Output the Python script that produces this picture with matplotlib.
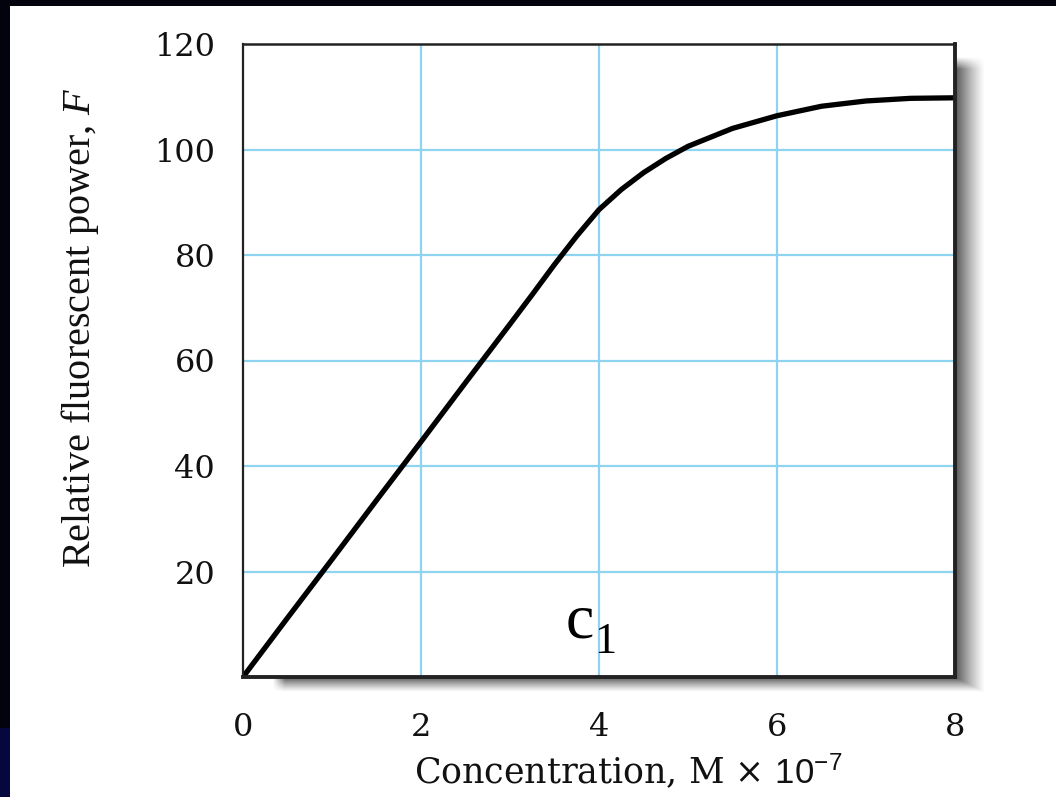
import numpy as np
import matplotlib
matplotlib.use("Agg")
import matplotlib.pyplot as plt
from matplotlib.patches import Rectangle

# ---- data ----
conc = [0, 0.5, 1, 1.5, 2, 2.5, 3, 3.25, 3.5, 3.75, 4, 4.25, 4.5, 4.75, 5,
        5.5, 6, 6.5, 7, 7.5, 8]
power = [0, 11.2, 22.3, 33.5, 44.6, 55.8, 66.9, 72.5, 78.2, 83.6, 88.6, 92.4,
         95.6, 98.3, 100.6, 104.0, 106.4, 108.2, 109.2, 109.7, 109.8]
x_ticks = [0, 2, 4, 6, 8]
x_ticklabels = ["0", "2", "4", "6", "8"]
y_ticks = [20, 40, 60, 80, 100, 120]
y_ticklabels = ["20", "40", "60", "80", "100", "120"]

plt.rcParams['mathtext.fontset'] = 'custom'
plt.rcParams['mathtext.rm'] = 'Liberation Serif'
plt.rcParams['mathtext.it'] = 'Liberation Serif:italic'
plt.rcParams['mathtext.sf'] = 'Liberation Sans'

W, H = 1056, 797
fig = plt.figure(figsize=(W / 100, H / 100), dpi=100)
fig.patch.set_facecolor('#03030d')

# background (pixel coordinates)
bg = fig.add_axes([0, 0, 1, 1])
bg.set_xlim(0, W)
bg.set_ylim(H, 0)
bg.axis('off')
bg.add_patch(Rectangle((10, 6), W - 10, H - 6, facecolor='white', edgecolor='none', zorder=0))
bg.add_patch(Rectangle((0, 728), 10, H - 728, facecolor='#07073f', edgecolor='none', zorder=0))

# drop shadow of the plot frame
x0s, x1s, y0s, y1s = 273, 985, 57, 692
ax_r, ax_b = 955, 677
xx, yy = np.meshgrid(np.arange(x0s, x1s) + 0.5, np.arange(y0s, y1s) + 0.5)
tx = np.clip((xx - ax_r) / (x1s - ax_r), 0, 1)
ty = np.clip((yy - ax_b) / (y1s - ax_b), 0, 1)
inside = (xx < ax_r) & (yy < ax_b)
t = np.where(xx >= ax_r, np.where(yy >= ax_b, np.maximum(tx, ty), tx), ty)
alpha = 0.75 * (1 - t) ** 1.2
alpha[inside] = 0
top_fade = np.clip((yy - y0s) / 12, 0, 1)
left_fade = np.clip((xx - x0s) / 12, 0, 1)
alpha = alpha * top_fade * left_fade
img = np.zeros(xx.shape + (4,))
img[..., :3] = 0.1
img[..., 3] = alpha
bg.imshow(img, extent=(x0s, x1s, y1s, y0s), origin='upper',
          interpolation='bilinear', aspect='auto', zorder=2)
bg.set_xlim(0, W)
bg.set_ylim(H, 0)

# main axes
ax = fig.add_axes([243 / W, 1 - 677 / H, (955 - 243) / W, (677 - 44) / H])
ax.set_facecolor('white')
ax.set_xlim(0, 8)
ax.set_ylim(0, 120)

for v in [2, 4, 6]:
    ax.axvline(v, color='#8ed3f0', lw=1.6, zorder=1)
for v in [20, 40, 60, 80, 100]:
    ax.axhline(v, color='#8ed3f0', lw=1.6, zorder=1)

ax.plot(conc, power, color='black', lw=3.8, solid_joinstyle='round',
        solid_capstyle='round', zorder=3, clip_on=True)

ax.set_xticks(x_ticks)
ax.set_xticklabels(x_ticklabels, fontfamily='DejaVu Serif', fontsize=23, color='#111111')
ax.set_yticks(y_ticks)
ax.set_yticklabels(y_ticklabels, fontfamily='DejaVu Serif', fontsize=23, color='#111111')
ax.tick_params(axis='x', length=0, pad=25)
ax.tick_params(axis='y', length=0, pad=20)

for side, lw in [('left', 1.6), ('top', 1.8), ('right', 2.8), ('bottom', 2.8)]:
    ax.spines[side].set_linewidth(lw)
    ax.spines[side].set_color('#222222')
    ax.spines[side].set_zorder(4)

# c1 annotation
ax.text(3.62, 7.4, "c", fontfamily='Liberation Serif', fontsize=46,
        ha='left', va='baseline', color='black', zorder=5)
ax.text(3.94, 4.5, "1", fontfamily='Liberation Serif', fontsize=32,
        ha='left', va='baseline', color='black', zorder=5)

# axis labels
fig.text(80 / W, 1 - 328 / H, "Relative fluorescent power, $F$",
         rotation=90, ha='center', va='center', fontfamily='Liberation Serif',
         fontsize=29, color='#111111')
fig.text(628 / W, 1 - 771 / H, "Concentration, M \u00d7 $\\mathsf{10^{-7}}$",
         ha='center', va='center', fontfamily='DejaVu Serif', fontsize=25,
         color='#111111')

fig.savefig("out.png", dpi=100)
